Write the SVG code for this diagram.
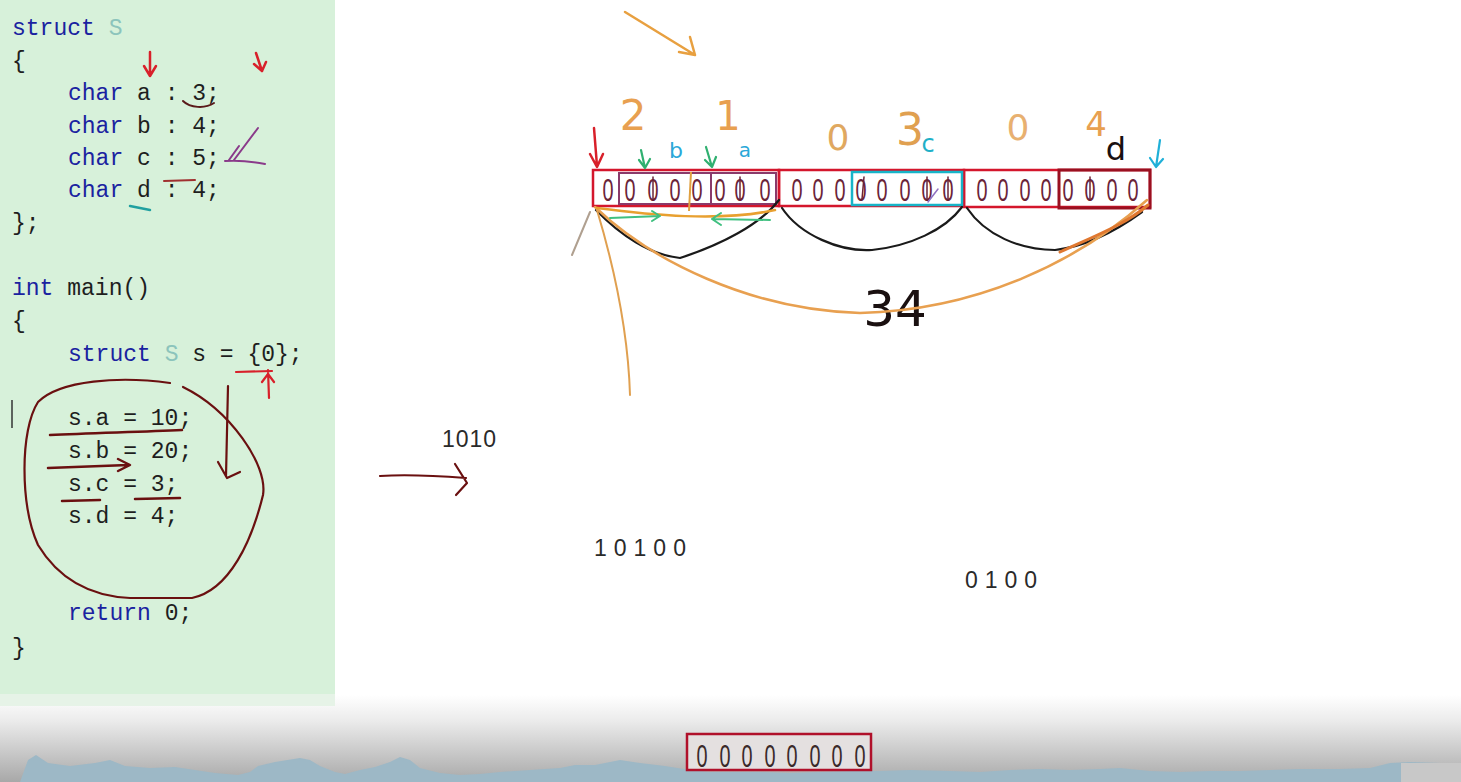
<svg xmlns="http://www.w3.org/2000/svg" width="1461" height="782" viewBox="0 0 1461 782">
<defs>
<linearGradient id="fade" x1="0" y1="0" x2="0" y2="1">
<stop offset="0" stop-color="#ffffff"/>
<stop offset="0.3" stop-color="#ebebeb"/>
<stop offset="1" stop-color="#a8a8a8"/>
</linearGradient>
<style>
.code{font-family:"Liberation Mono","DejaVu Sans Mono",monospace;font-size:23px;fill:#1e1e1e}
.kw{fill:#1a22a0}
.ty{fill:#8cc4bc}
.z{font-family:"Liberation Sans","DejaVu Sans",sans-serif;font-size:32px;fill:#6b2438;text-anchor:middle}
.zb{fill:#3a2a2a}
.hand{font-family:"DejaVu Sans","Liberation Sans",sans-serif;text-anchor:middle}
.num{font-family:"Liberation Sans","DejaVu Sans",sans-serif;font-size:23px;fill:#2a2a2a}
.ink{fill:none;stroke-linecap:round;stroke-linejoin:round}
</style>
</defs>

<rect width="1461" height="782" fill="#ffffff"/>
<rect x="0" y="695" width="1461" height="87" fill="url(#fade)"/>
<polygon points="20,782 28,760 36,755 48,763 70,766 95,763 110,760 125,766 150,768 175,767 195,770 215,773 238,775 250,772 258,766 275,762 300,758 310,760 320,766 335,772 345,774 360,770 375,767 390,762 400,757 410,760 420,768 440,773 460,775 480,774 500,772 530,770 560,768 575,765 595,765 620,760 640,763 665,766 690,770 710,772 730,772 760,772 790,773 820,772 850,771 880,771 910,770 950,771 980,772 1010,770 1040,769 1070,770 1100,769 1120,768 1150,771 1180,772 1210,771 1240,771 1270,770 1300,769 1340,769 1370,768 1390,763 1410,762 1440,763 1461,765 1461,782" fill="#9db8c6"/>
<rect x="1401" y="763" width="60" height="19" fill="#c8c8c8"/>

<g id="code-panel">
<rect x="0" y="0" width="335" height="694" fill="#d7f1da"/>
<rect x="0" y="694" width="335" height="12" fill="#e6f3e7"/>
<text class="code" x="12" y="35"><tspan class="kw">struct</tspan> <tspan class="ty">S</tspan></text>
<text class="code" x="12" y="68">{</text>
<text class="code" x="68" y="100"><tspan class="kw">char</tspan> a : 3;</text>
<text class="code" x="68" y="133"><tspan class="kw">char</tspan> b : 4;</text>
<text class="code" x="68" y="165"><tspan class="kw">char</tspan> c : 5;</text>
<text class="code" x="68" y="197"><tspan class="kw">char</tspan> d : 4;</text>
<text class="code" x="12" y="230">};</text>
<text class="code" x="12" y="295"><tspan class="kw">int</tspan> main()</text>
<text class="code" x="12" y="328">{</text>
<text class="code" x="68" y="361"><tspan class="kw">struct</tspan> <tspan class="ty">S</tspan> s = {0};</text>
<text class="code" x="68" y="425">s.a = 10;</text>
<text class="code" x="68" y="458">s.b = 20;</text>
<text class="code" x="68" y="491">s.c = 3;</text>
<text class="code" x="68" y="523">s.d = 4;</text>
<text class="code" x="68" y="620"><tspan class="kw">return</tspan> 0;</text>
<text class="code" x="12" y="655">}</text>
<line x1="12" y1="400" x2="12" y2="428" stroke="#333" stroke-width="1.5"/>
</g>

<g id="code-marks" class="ink">
<path d="M150,52 L150,76 M144,66 L150,76 L156,66" stroke="#d8202a" stroke-width="2.5"/>
<path d="M256,53 L262,71 M254,64 L262,71 L266,62" stroke="#d8202a" stroke-width="2.5"/>
<path d="M183,101 C190,108 205,109 214,103" stroke="#5a1a1a" stroke-width="2"/>
<path d="M229,160 L239,146 M234,160 L258,128 M225,161 C240,160 255,162 265,164" stroke="#8a3a8a" stroke-width="2"/>
<path d="M164,181 L195,180" stroke="#a03030" stroke-width="2"/>
<path d="M130,206 L150,210" stroke="#20a0a0" stroke-width="2.5"/>
<path d="M236,372 L272,371 M268,370 L269,398 M262,382 L268,374 L274,382" stroke="#d8202a" stroke-width="2.2"/>
<path d="M170,383 C120,376 60,380 38,402 C20,430 20,505 38,545 C58,578 88,596 130,598 L192,598 C230,590 252,540 263,495 C268,465 230,410 183,387" stroke="#6a1010" stroke-width="2.2"/>
<path d="M228,386 L226,476 M218,462 L227,478 L240,472" stroke="#6a1010" stroke-width="2.2"/>
<path d="M50,435 C90,433 140,432 182,430" stroke="#6a1010" stroke-width="2.5"/>
<path d="M48,468 L128,465 M118,459 L130,465 L118,471" stroke="#6a1010" stroke-width="2.5"/>
<path d="M62,501 L100,500 M135,499 L180,498" stroke="#6a1010" stroke-width="2.5"/>
</g>

<g id="bytes">
<rect x="593" y="170" width="186" height="36" fill="none" stroke="#d4162c" stroke-width="2.5"/>
<rect x="779" y="170" width="185" height="36" fill="none" stroke="#d4162c" stroke-width="2.5"/>
<rect x="964" y="170" width="186" height="37" fill="none" stroke="#d4162c" stroke-width="2.5"/>
<rect x="619" y="173" width="92" height="31" fill="none" stroke="#8a3a6a" stroke-width="2"/>
<rect x="711" y="173" width="65" height="31" fill="none" stroke="#8a3a6a" stroke-width="2"/>
<line x1="691" y1="172" x2="689" y2="211" stroke="#e0a040" stroke-width="2"/>
<rect x="852" y="172" width="110" height="33" fill="none" stroke="#18b4c8" stroke-width="2.5"/>
<rect x="1059" y="170" width="91" height="38" fill="none" stroke="#9a1020" stroke-width="3"/>
<g transform="scale(0.62,1)">
<text class="z" x="980.6" y="201">0</text><text class="z" x="1016.1" y="201">0</text><text class="z" x="1053.2" y="201">0</text><text class="z" x="1088.7" y="201">0</text><text class="z" x="1124.2" y="201">0</text><text class="z" x="1161.3" y="201">0</text><text class="z" x="1193.5" y="201">0</text><text class="z" x="1233.9" y="201">0</text>
<text class="z" x="1285.5" y="201">0</text><text class="z" x="1319.4" y="201">0</text><text class="z" x="1354.8" y="201">0</text><text class="z" x="1388.7" y="201">0</text><text class="z" x="1422.6" y="201">0</text><text class="z" x="1459.7" y="201">0</text><text class="z" x="1495.2" y="201">0</text><text class="z" x="1529" y="201">0</text>
<text class="z" x="1583.9" y="201">0</text><text class="z" x="1617.7" y="201">0</text><text class="z" x="1653.2" y="201">0</text><text class="z" x="1687.1" y="201">0</text><text class="z" x="1722.6" y="201">0</text><text class="z" x="1758.1" y="201">0</text><text class="z" x="1793.5" y="201">0</text><text class="z" x="1827.4" y="201">0</text>
</g>
<path class="ink" d="M653,177 L653,200 M740,177 L740,200 M927,177 L927,200 M948,177 L948,200 M1090,177 L1090,200 M864,177 L862,199" stroke="#6b2438" stroke-width="1.5"/>
<path class="ink" d="M928,202 L938,189" stroke="#9070c0" stroke-width="1.5"/>
</g>

<g id="labels">
<text class="hand" x="633" y="130" font-size="42" fill="#e8a050">2</text>
<text class="hand" x="728" y="130" font-size="40" fill="#e8a050">1</text>
<text class="hand" x="676" y="158" font-size="22" fill="#2aa8d8">b</text>
<text class="hand" x="745" y="157" font-size="20" fill="#2aa8d8">a</text>
<text class="hand" x="838" y="150" font-size="36" fill="#e0a860">0</text>
<text class="hand" x="910" y="145" font-size="44" fill="#e0a050">3</text>
<text class="hand" x="928" y="152" font-size="24" fill="#20b0c8">c</text>
<text class="hand" x="1018" y="140" font-size="36" fill="#e8b070">0</text>
<text class="hand" x="1096" y="136" font-size="34" fill="#e8a050">4</text>
<text class="hand" x="1116" y="160" font-size="32" fill="#1a1010">d</text>
<text class="hand" x="895" y="326" font-size="50" fill="#1a1010">34</text>
</g>

<g id="connectors" class="ink">
<path d="M625,12 L695,55 M690,37 L695,55 L679,52" stroke="#e8a040" stroke-width="2.5"/>
<path d="M594,128 L597,166 M590,154 L597,167 L603,154" stroke="#d8202a" stroke-width="2.5"/>
<path d="M641,150 L645,168 M639,160 L645,168 L650,159" stroke="#30b070" stroke-width="2.2"/>
<path d="M706,147 L712,167 M705,160 L712,167 L716,157" stroke="#30b070" stroke-width="2.2"/>
<path d="M1160,140 L1156,167 M1150,158 L1156,167 L1163,159" stroke="#20b0d8" stroke-width="2.2"/>
<path d="M596,210 C620,235 650,255 680,258 C720,245 760,225 779,200" stroke="#1a1a1a" stroke-width="2.2"/>
<path d="M782,208 C800,235 840,252 872,250 C910,246 945,230 962,207" stroke="#1a1a1a" stroke-width="2.2"/>
<path d="M967,208 C985,235 1020,250 1055,250 C1090,246 1120,228 1142,212" stroke="#1a1a1a" stroke-width="2.2"/>
<path d="M595,207 C650,260 750,310 860,313 C980,310 1080,260 1147,200" stroke="#e8a050" stroke-width="2.5"/>
<path d="M1060,252 C1090,238 1125,225 1148,205" stroke="#e07830" stroke-width="3"/>
<path d="M597,210 C615,270 628,330 630,395" stroke="#e0a050" stroke-width="2"/>
<path d="M572,255 L590,212" stroke="#b0a090" stroke-width="2"/>
<path d="M597,208 C650,215 720,222 775,210" stroke="#e8a030" stroke-width="2.5"/>
<path d="M610,218 L660,216 M652,211 L660,216 L652,221" stroke="#40c080" stroke-width="2"/>
<path d="M770,220 L712,219 M721,213 L712,219 L721,225" stroke="#40c080" stroke-width="2"/>
<path d="M380,476 C410,474 440,476 466,478 M455,464 L467,483 L456,495" stroke="#6a1010" stroke-width="2.2"/>
</g>

<g id="numbers">
<text class="num" x="442" y="447" font-size="24" letter-spacing="1">1010</text>
<text class="num" x="594" y="556" letter-spacing="7" fill="#3a1a1a">10100</text>
<text class="num" x="965" y="588" letter-spacing="7" fill="#3a1a1a">0100</text>
</g>

<g id="byte-box">
<rect x="687" y="734" width="184" height="36" fill="#e4e0e0" stroke="#b0102a" stroke-width="2.5"/>
<g transform="scale(0.62,1)">
<text class="z zb" x="1132.3" y="767">0</text><text class="z zb" x="1169.4" y="767">0</text><text class="z zb" x="1204.8" y="767">0</text><text class="z zb" x="1241.9" y="767">0</text><text class="z zb" x="1277.4" y="767">0</text><text class="z zb" x="1314.5" y="767">0</text><text class="z zb" x="1350" y="767">0</text><text class="z zb" x="1387.1" y="767">0</text>
</g>
</g>
</svg>
